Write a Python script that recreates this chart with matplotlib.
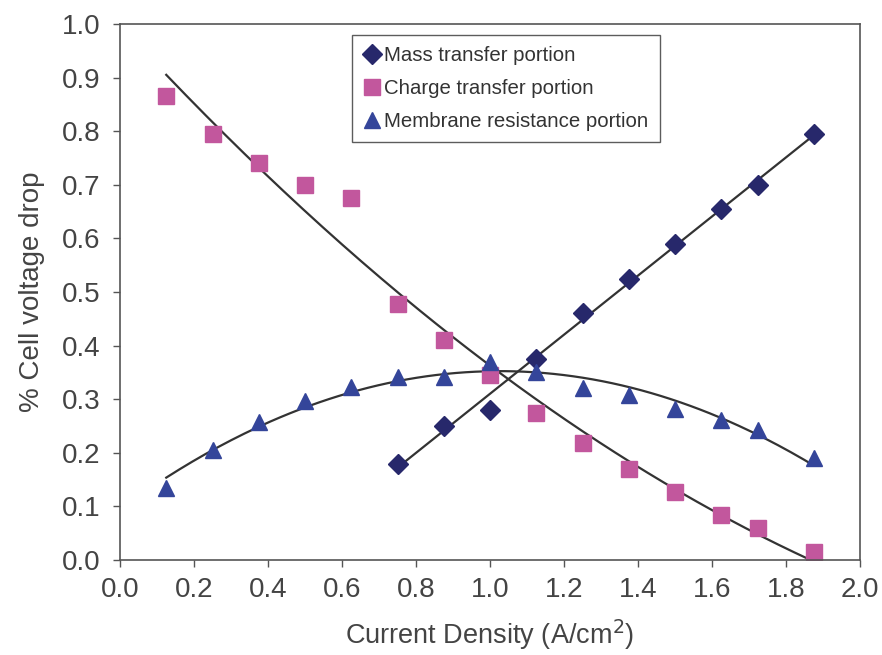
import numpy as np
import matplotlib
matplotlib.use('Agg')
import matplotlib.pyplot as plt

plt.rcParams['font.family'] = ['Liberation Sans', 'DejaVu Sans']

# current density (A/cm2)
current = [0.125, 0.25, 0.375, 0.5, 0.625, 0.75, 0.875, 1.0, 1.125,
           1.25, 1.375, 1.5, 1.625, 1.725, 1.875]

mass_x = current[5:]
mass_transfer = [0.18, 0.25, 0.28, 0.375, 0.46, 0.525, 0.59, 0.655, 0.70, 0.795]

charge_transfer = [0.865, 0.795, 0.74, 0.70, 0.675, 0.478, 0.41, 0.345, 0.274,
                   0.218, 0.17, 0.127, 0.084, 0.06, 0.015]

membrane = [0.134, 0.205, 0.257, 0.297, 0.322, 0.341, 0.341, 0.369, 0.351,
            0.321, 0.308, 0.282, 0.261, 0.243, 0.19]

navy = '#27286b'
pink = '#c2579d'
blue = '#34459a'
line_col = '#333333'
text_col = '#444444'

fig = plt.figure(figsize=(8.82, 6.55), dpi=100)
ax = fig.add_axes([120/882, 95/655, 740/882, 536/655])

# trendlines (Excel style fits)
xs = np.linspace(min(mass_x), max(mass_x), 100)
ax.plot(xs, np.polyval(np.polyfit(mass_x, mass_transfer, 1), xs), color=line_col, lw=1.6)
xc = np.linspace(min(current), max(current), 200)
ax.plot(xc, np.polyval(np.polyfit(current, charge_transfer, 2), xc), color=line_col, lw=1.6)
ax.plot(xc, np.polyval(np.polyfit(current, membrane, 2), xc), color=line_col, lw=1.6)

ax.plot(mass_x, mass_transfer, 'D', color=navy, ms=10, ls='none', label='Mass transfer portion')
ax.plot(current, charge_transfer, 's', color=pink, ms=11, ls='none', label='Charge transfer portion')
ax.plot(current, membrane, '^', color=blue, ms=11.5, ls='none', label='Membrane resistance portion')

ax.set_xlim(0, 2.0)
ax.set_ylim(0, 1.0)
ax.set_xticks(np.arange(0, 2.01, 0.2))
ax.set_yticks(np.arange(0, 1.01, 0.1))
ax.xaxis.set_major_formatter(matplotlib.ticker.FormatStrFormatter('%.1f'))
ax.yaxis.set_major_formatter(matplotlib.ticker.FormatStrFormatter('%.1f'))
ax.tick_params(direction='out', length=5, width=1, colors='#555555',
               labelsize=20, labelcolor=text_col)
ax.tick_params(axis='x', pad=7)
ax.tick_params(axis='y', pad=9)
for s in ax.spines.values():
    s.set_color('#555555')
    s.set_linewidth(1.2)

ax.set_xlabel('Current Density (A/cm$^2$)', fontsize=19.5, color=text_col, labelpad=11)
ax.set_ylabel('% Cell voltage drop', fontsize=20, color=text_col, labelpad=12)

leg = ax.legend(loc='upper left', bbox_to_anchor=(0.313, 0.98), fontsize=14.7,
                frameon=True, fancybox=False, handletextpad=0.15, handlelength=0.9,
                borderpad=0.55, labelspacing=0.68, borderaxespad=0)
leg.get_frame().set_edgecolor('#333333')
leg.get_frame().set_linewidth(1.0)
for t in leg.get_texts():
    t.set_color('#333333')

fig.savefig('out.png', dpi=100)
